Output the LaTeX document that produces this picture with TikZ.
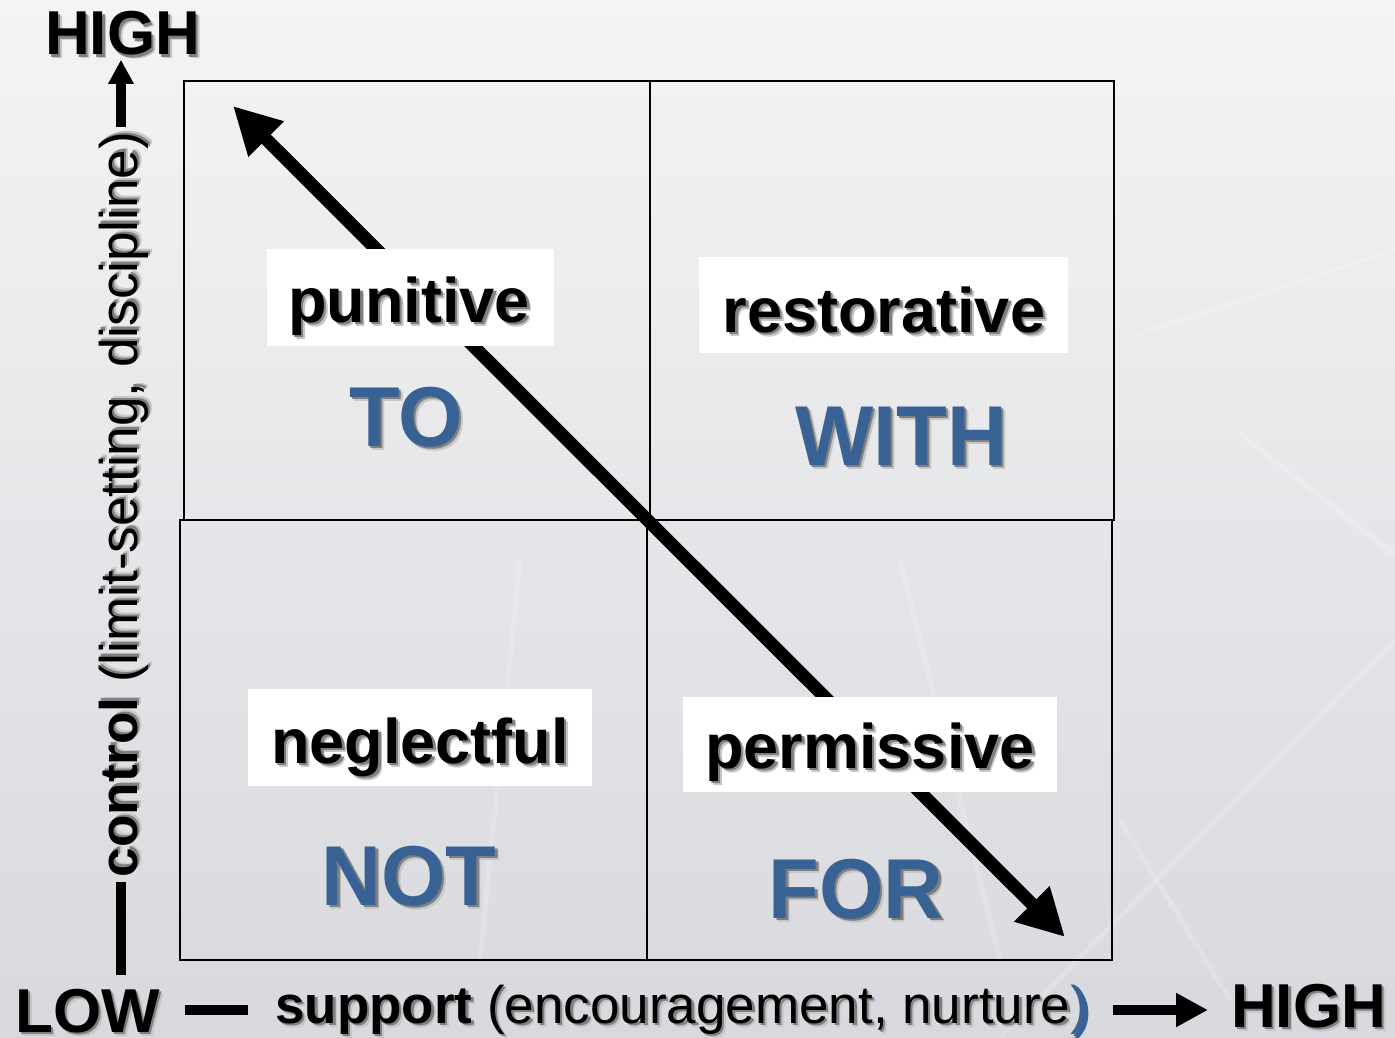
\documentclass[tikz,border=0pt]{standalone}
\usepackage{fontspec}
\usepackage{graphicx}
\setmainfont{Liberation Sans}
\usetikzlibrary{arrows.meta}
\definecolor{bgtop}{RGB}{244,244,245}
\definecolor{bgbot}{RGB}{216,217,222}
\definecolor{wordblue}{RGB}{56,97,148}
\newcommand{\shw}[1]{\leavevmode\rlap{\kern4pt\raisebox{-4pt}{\textcolor{black!22}{#1}}}\rlap{\kern2.5pt\raisebox{-2.5pt}{\textcolor{black!50}{#1}}}#1}
\tikzset{
  quad/.style={draw=black, line width=2.8pt, inner sep=0pt, outer sep=0pt},
  labelbox/.style={fill=white, inner sep=0pt, outer sep=0pt},
  labelword/.style={font=\fontsize{63}{63}\selectfont\bfseries, text=black, inner sep=0pt, anchor=base},
  bigword/.style={font=\fontsize{85}{85}\selectfont\bfseries, text=wordblue, inner sep=0pt, anchor=base},
  endword/.style={font=\fontsize{62}{62}\selectfont\bfseries, text=black, inner sep=0pt, anchor=base west},
  axislabel/.style={font=\fontsize{53}{53}\selectfont, text=black, inner sep=0pt, anchor=base west},
  axisline/.style={line width=10pt, draw=black},
  bgline/.style={draw=white, opacity=0.18, line width=5pt},
}
\begin{document}
\begin{tikzpicture}[x=1pt,y=-1pt]
\useasboundingbox (0,0) rectangle (1395,1038);
\shade[top color=bgtop, bottom color=bgbot] (0,0) rectangle (1395,1038);
% faint background lines
\draw[bgline] (1000,1038) -- (1395,640);
\draw[bgline] (1235,430) -- (1395,555);
\draw[bgline] (1135,335) -- (1395,250);
\draw[bgline] (1230,1000) -- (1120,820);
\draw[bgline] (480,960) -- (520,560);
\draw[bgline] (900,560) -- (1000,960);

% quadrants
\node[quad, minimum width=466pt, minimum height=439pt] (qtl) at (417,300.5) {};
\node[quad, minimum width=464pt, minimum height=439pt] (qtr) at (882,300.5) {};
\node[quad, minimum width=467pt, minimum height=440pt] (qbl) at (413.5,740) {};
\node[quad, minimum width=465pt, minimum height=440pt] (qbr) at (879.5,740) {};

% diagonal double arrow
\coordinate (dtl) at (233,106);
\coordinate (dbr) at (1065,937);
\draw[line width=13pt, {Triangle[length=47pt,width=47pt]}-{Triangle[length=47pt,width=47pt]}] (dbr) -- (dtl);

% white label boxes
\node[labelbox, minimum width=287pt, minimum height=97pt] (punbox) at (410.5,297.5) {};
\node[labelbox, minimum width=369pt, minimum height=96pt] (resbox) at (883.5,305) {};
\node[labelbox, minimum width=344pt, minimum height=97pt] (negbox) at (420,737.5) {};
\node[labelbox, minimum width=374pt, minimum height=95pt] (perbox) at (870,744.5) {};

% label words
\node[labelword] (punitive) at (409,322) {\shw{punitive}};
\node[labelword] (restorative) at (884,332) {\shw{restorative}};
\node[labelword] (neglectful) at (420,763) {\shw{neglectful}};
\node[labelword] (permissive) at (870,768) {\shw{permissive}};

% big blue words
\node[bigword] (to) at (406,446) {\shw{\scalebox{0.975}[1]{TO}}};
\node[bigword] (with) at (901,465) {\shw{\scalebox{0.975}[1]{WITH}}};
\node[bigword] (not) at (409,905) {\shw{\scalebox{0.975}[1]{NOT}}};
\node[bigword] (for) at (856,918) {\shw{\scalebox{0.975}[1]{FOR}}};

% axis end words
\node[endword] (hightop) at (45,55) {\shw{HIGH}};
\node[endword] (low) at (15,1032) {\shw{LOW}};
\node[endword] (highright) at (1231,1027) {\shw{HIGH}};

% vertical axis
\node[axislabel, rotate=90, outer sep=5pt] (ctrl) at (137,882) {\shw{\textbf{control} (limit-setting, discipline)}};
\coordinate (v0) at (121,975);
\draw[axisline] (v0) -- (v0 |- ctrl.west);
\draw[axisline, -{Triangle[length=24pt,width=24pt]}] (v0 |- ctrl.east) -- (v0 |- hightop.south);

% horizontal axis
\node[axislabel] (supp) at (275,1023) {\shw{\textbf{support} (encouragement, nurture\textcolor{wordblue}{)}}};
\coordinate (h0) at (185,1010);
\coordinate (h1) at (248,1010);
\draw[axisline] (h0) -- (h1);
\coordinate (h2) at (1113,1010);
\coordinate (h3) at (1208,1010);
\draw[axisline, -{Triangle[length=32pt,width=32pt]}] (h2) -- (h3);
\end{tikzpicture}
\end{document}
